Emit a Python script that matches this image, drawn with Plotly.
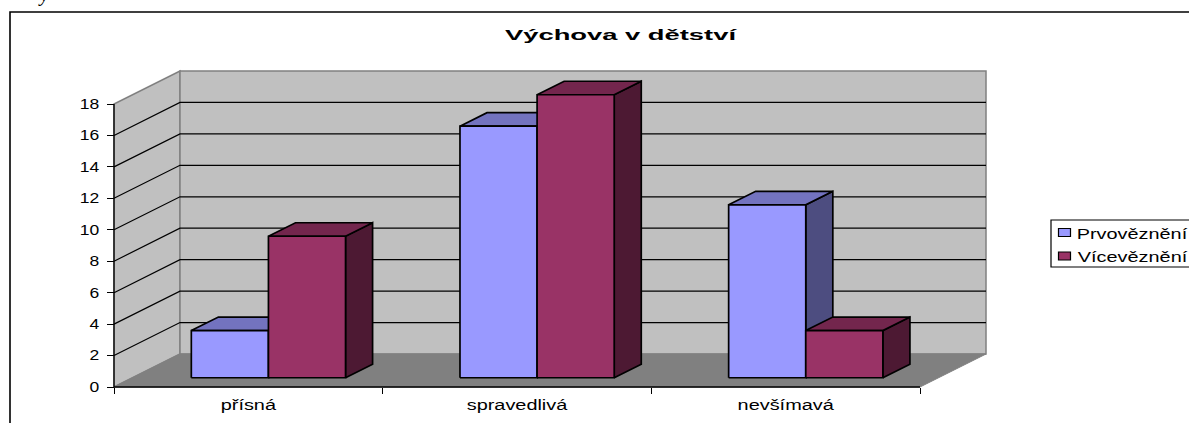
import plotly.graph_objects as go

# ---- data ----
categories = ["přísná", "spravedlivá", "nevšímavá"]
series_names = ["Prvověznění", "Vícevěznění"]
prvovezneni = [3, 16, 11]
vicevezneni = [9, 18, 3]
y_ticks = [0, 2, 4, 6, 8, 10, 12, 14, 16, 18]
title_text = "Výchova v dětství"

# ---- geometry / style ----
W, H = 1189, 423
# pixel box of the front plane (value 0..18, three categories)
FL, FR, FT, FB = 114, 920, 104, 387
# pixel box of the plot area: wider, because Plotly clips lines and fills to it
PL, PR, PT, PB = 70, 996, 62, 421
CAT_PX = (FR - FL) / 3
UNIT_PX = (FB - FT) / 18
DEPTH_X = 66 / CAT_PX      # full floor depth in x data units
DEPTH_Y = 33 / UNIT_PX     # full floor depth in y data units
BAR_W = 0.287
BAR_START = 0.219
Z_FRONT, Z_BACK = 0.28, 0.69
COLORS = [("#9999FF", "#7373BF", "#4D4D80"), ("#993366", "#73264D", "#4D1933")]
FONT = "Liberation Sans"


def px(x):
    return (x - PL) / (PR - PL)


def py(y):
    return (PB - y) / (PB - PT)


fig = go.Figure()


def poly(xs, ys, fill, line="black", lw=1.7):
    fig.add_trace(go.Scatter(
        x=xs + xs[:1], y=ys + ys[:1], mode="lines", fill="toself", fillcolor=fill,
        line=dict(color=line, width=lw), hoverinfo="skip", showlegend=False))


def path(xs, ys, color="black", lw=1.2):
    fig.add_trace(go.Scatter(
        x=xs, y=ys, mode="lines", line=dict(color=color, width=lw),
        hoverinfo="skip", showlegend=False))


# walls and floor
poly([0, DEPTH_X, DEPTH_X, 0], [0, DEPTH_Y, 18 + DEPTH_Y, 18], "#C0C0C0", "#808080", 1.5)
poly([DEPTH_X, 3 + DEPTH_X, 3 + DEPTH_X, DEPTH_X],
     [DEPTH_Y, DEPTH_Y, 18 + DEPTH_Y, 18 + DEPTH_Y], "#C0C0C0", "#808080", 1.5)
poly([0, DEPTH_X, 3 + DEPTH_X, 3], [0, DEPTH_Y, DEPTH_Y, 0], "#808080", "#808080", 1)

# gridlines on side and back walls (the top edge stays the grey wall border)
for v in y_ticks[1:-1]:
    path([0, DEPTH_X, 3 + DEPTH_X], [v, v + DEPTH_Y, v + DEPTH_Y])

# axis lines of the front plane
path([0, 0, 3], [18, 0, 0], "black", 1.3)

# bars
for c in range(len(categories)):
    for s, values in enumerate([prvovezneni, vicevezneni]):
        v = values[c]
        front, top, side = COLORS[s]
        x0 = c + BAR_START + s * BAR_W
        x1 = x0 + BAR_W
        fx, fy = Z_FRONT * DEPTH_X, Z_FRONT * DEPTH_Y
        bx, by = Z_BACK * DEPTH_X, Z_BACK * DEPTH_Y
        poly([x1 + fx, x1 + bx, x1 + bx, x1 + fx], [fy, by, v + by, v + fy], side)
        poly([x0 + fx, x0 + bx, x1 + bx, x1 + fx], [v + fy, v + by, v + by, v + fy], top)
        poly([x0 + fx, x1 + fx, x1 + fx, x0 + fx], [fy, fy, v + fy, v + fy], front)

shapes = [
    # outer frame
    dict(type="rect", xref="paper", yref="paper", x0=px(10), x1=px(W + 10), y0=py(H + 10), y1=py(12),
         line=dict(color="black", width=1.6), fillcolor="rgba(0,0,0,0)", layer="below"),
    # legend box and swatches
    dict(type="rect", xref="paper", yref="paper", x0=px(1051), x1=px(W + 10), y0=py(267), y1=py(220),
         line=dict(color="black", width=1.2), fillcolor="white"),
    dict(type="rect", xref="paper", yref="paper", x0=px(1058.5), x1=px(1070.5), y0=py(236.5), y1=py(228.5),
         line=dict(color="black", width=1.2), fillcolor=COLORS[0][0]),
    dict(type="rect", xref="paper", yref="paper", x0=px(1058.5), x1=px(1070.5), y0=py(260), y1=py(252),
         line=dict(color="black", width=1.2), fillcolor=COLORS[1][0]),
]

annotations = [
    dict(text=series_names[0], x=px(1132), y=py(234), xref="paper", yref="paper", showarrow=False,
         xanchor="center", yanchor="middle", font=dict(family=FONT, size=14, color="black")),
    dict(text=series_names[1], x=px(1132), y=py(257), xref="paper", yref="paper", showarrow=False,
         xanchor="center", yanchor="middle", font=dict(family=FONT, size=14, color="black")),
    dict(text="y", x=px(43), y=py(-5), xref="paper", yref="paper", showarrow=False,
         xanchor="center", yanchor="middle",
         font=dict(family="Liberation Serif", size=20, style="italic", color="black")),
]

fig.update_layout(
    width=W, height=H, autosize=False, showlegend=False,
    margin=dict(l=PL, r=W - PR, t=PT, b=H - PB, pad=0),
    paper_bgcolor="white", plot_bgcolor="rgba(0,0,0,0)",
    title=dict(text=title_text, x=620.5 / W, xanchor="center", y=1 - 35 / H, yanchor="middle",
               font=dict(family=FONT, size=15, weight=700, color="black")),
    xaxis=dict(range=[(PL - FL) / CAT_PX, (PR - FL) / CAT_PX],
               anchor="free", position=py(FB), automargin=False,
               tickmode="array", tickvals=[0.5, 1.5, 2.5], ticktext=categories,
               ticks="", showgrid=False, zeroline=False, showline=False,
               tickfont=dict(family=FONT, size=14, color="black"), ticklabelstandoff=8,
               minor=dict(tickmode="array", tickvals=[0, 1, 2, 3], ticks="outside", ticklen=6,
                          tickcolor="black", tickwidth=1.2, showgrid=False)),
    yaxis=dict(range=[(FB - PB) / UNIT_PX, (FB - PT) / UNIT_PX],
               anchor="free", position=px(FL), automargin=False,
               tickmode="array", tickvals=y_ticks, ticktext=[str(t) for t in y_ticks],
               ticks="outside", ticklen=7, tickcolor="black", tickwidth=1.2,
               showgrid=False, zeroline=False, showline=False,
               tickfont=dict(family=FONT, size=14, color="black"), ticklabelstandoff=5),
    shapes=shapes, annotations=annotations,
)

# the reference text is horizontally stretched; keep it as real text and widen the glyphs
post = """
document.body.style.margin = '0';
var gd = document.getElementById('{plot_id}');
function widen() {
  gd.querySelectorAll('svg text').forEach(function (t) {
    if (t.getAttribute('data-wide') || !t.textContent) return;
    var s = t.textContent, w = t.getComputedTextLength(), k = 1.42;
    if (t.closest('.gtitle, .g-gtitle') || t.classList.contains('gtitle')) k = 231 / w;
    else if (s === 'y') k = 1;
    else if (/^[0-9]+$/.test(s)) k = 1.25;
    t.setAttribute('textLength', w * k);
    t.setAttribute('lengthAdjust', 'spacingAndGlyphs');
    t.setAttribute('data-wide', '1');
  });
}
widen();
setTimeout(widen, 200);
"""
fig.write_html("out.html", post_script=post, config=dict(displayModeBar=False))
